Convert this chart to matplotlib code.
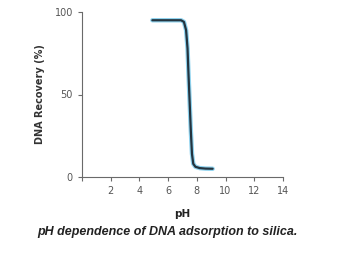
import matplotlib
matplotlib.use('Agg')
import matplotlib.pyplot as plt

# values
ph = [4.9, 6.0, 6.9, 7.1, 7.25, 7.35, 7.42, 7.5, 7.58, 7.66, 7.75, 7.9, 8.2, 8.6, 9.1]
recovery = [95, 95, 95, 94, 89, 78, 62, 45, 28, 14, 8, 6.2, 5.4, 5.1, 5]
xticks = [0, 2, 4, 6, 8, 10, 12, 14]
xticklabels = ['', '2', '4', '6', '8', '10', '12', '14']
yticks = [0, 50, 100]

axis_col = '#6a6a6a'

fig = plt.figure(figsize=(3.48, 2.58), dpi=100)
ax = fig.add_axes([82 / 348, 1 - 177 / 258, (283 - 82) / 348, (177 - 12) / 258])

ax.plot(ph, recovery, color='#8fd3ef', lw=3.2, solid_capstyle='round', zorder=2)
ax.plot(ph, recovery, color='#24343f', lw=1.6, solid_capstyle='round', zorder=3)

ax.set_xlim(0, 14)
ax.set_ylim(0, 100)
ax.set_xticks(xticks)
ax.set_xticklabels(xticklabels)
ax.set_yticks(yticks)
ax.tick_params(colors=axis_col, labelcolor='#555555', labelsize=7, length=3, width=0.8)
for s in ['top', 'right']:
    ax.spines[s].set_visible(False)
for s in ['left', 'bottom']:
    ax.spines[s].set_color(axis_col)
    ax.spines[s].set_linewidth(0.8)

ax.set_ylabel('DNA Recovery (%)', fontsize=7, fontweight='bold', color='#333333', labelpad=7)
ax.set_xlabel('pH', fontsize=7.5, fontweight='bold', color='#222222', labelpad=9)

fig.text(0.48, 1 - 232 / 258, 'pH dependence of DNA adsorption to silica.',
         family='Liberation Sans', fontsize=9, fontweight='bold', style='italic',
         color='#222222', ha='center', va='center')

fig.savefig('out.png', dpi=100, facecolor='white')
